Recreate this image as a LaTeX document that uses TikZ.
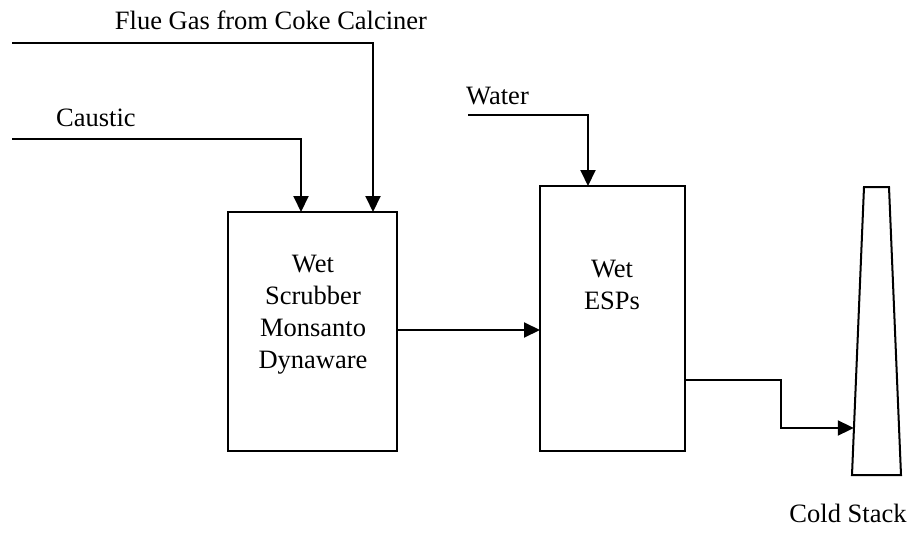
\documentclass[tikz,border=0pt]{standalone}
\usepackage{fontspec}
\setmainfont{Liberation Serif}
\usetikzlibrary{arrows.meta}
\begin{document}
\begin{tikzpicture}[x=1pt,y=-1pt,
  line/.style={line width=2pt},
  flow/.style={line width=2pt,-{Triangle[length=16pt,width=15pt]}},
  lbl/.style={font=\fontsize{26.5}{32}\selectfont,inner sep=0pt},
  box/.style={draw,line width=2pt}]
\useasboundingbox (0,0) rectangle (913,535);
% boxes
\draw[box] (228,212) rectangle (397,451);
\draw[box] (540,186) rectangle (685,451);
\coordinate (b1top1) at (301,212);
\coordinate (b1top2) at (373,212);
\coordinate (b1right) at (397,330);
\coordinate (b2left) at (540,330);
\coordinate (b2top) at (588,186);
\coordinate (b2right) at (685,380);
% stack
\draw[line, line join=miter] (852,475) -- (864,187) -- (889,187) -- (901,475) -- cycle;
\coordinate (stackin) at (853.8,428);
% inputs
\coordinate (fluestart) at (12,43);
\coordinate (causticstart) at (12,139);
\coordinate (waterstart) at (468,115);
\draw[flow] (fluestart) -| (b1top2);
\draw[flow] (causticstart) -| (b1top1);
\draw[flow] (waterstart) -| (b2top);
\draw[flow] (b1right) -- (b2left);
\draw[flow] (b2right) -- (781,380) -- (781,428) -- (stackin);
% labels
\node[lbl,anchor=base] (flue) at (271,30) {Flue Gas from Coke Calciner};
\node[lbl,anchor=base west] (caustic) at (56,126) {Caustic};
\node[lbl,anchor=base west] (water) at (466,104) {Water};
\node[lbl,anchor=base] (cold) at (848,522) {Cold Stack};
\node[lbl,align=center,font=\fontsize{26.5}{32}\selectfont] (t1) at (313,315) {Wet\\Scrubber\\Monsanto\\Dynaware};
\node[lbl,align=center,font=\fontsize{26.5}{32}\selectfont] (t2) at (612,285) {Wet\\ESPs};
\end{tikzpicture}
\end{document}
